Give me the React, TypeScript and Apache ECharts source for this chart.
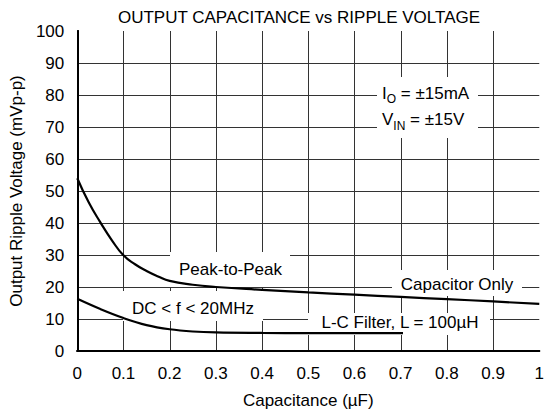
import React, { useEffect, useRef } from "react";
import * as echarts from "echarts";

const xTicks = [0, 0.1, 0.2, 0.3, 0.4, 0.5, 0.6, 0.7, 0.8, 0.9, 1];
const yTicks = [0, 10, 20, 30, 40, 50, 60, 70, 80, 90, 100];

const capX = [0, 0.025, 0.05, 0.075, 0.1, 0.125, 0.15, 0.175, 0.2, 0.25, 0.3, 0.4, 0.5, 0.6, 0.7, 0.8, 0.9, 1.0];
const capY = [54, 46.4, 40.2, 34.6, 29.9, 27.1, 25.0, 23.3, 21.9, 20.7, 20.0, 19.1, 18.3, 17.6, 16.9, 16.2, 15.5, 14.7];

const lcX = [0, 0.05, 0.1, 0.15, 0.2, 0.25, 0.3, 0.4, 0.5, 0.6, 0.705];
const lcY = [16.3, 13.1, 10.3, 8.1, 6.8, 6.1, 5.8, 5.65, 5.6, 5.6, 5.6];

const FONT = "'Liberation Sans', Arial, Helvetica, sans-serif";

export default function App() {
  const ref = useRef<HTMLDivElement>(null);
  useEffect(() => {
    if (!ref.current) return;
    const chart = echarts.init(ref.current, undefined, { renderer: "svg" });
    const fmt = (v: number) => String(Number(v.toFixed(1)));
    const border = { show: true, lineStyle: { color: "#000", width: 2 } };
    chart.setOption({
      animation: false,
      backgroundColor: "#fff",
      textStyle: { fontFamily: FONT, color: "#000" },
      title: {
        text: "OUTPUT CAPACITANCE vs RIPPLE VOLTAGE",
        left: 294,
        top: 4,
        textAlign: "center",
        textStyle: { fontFamily: FONT, fontSize: 17, fontWeight: "normal", color: "#000" },
      },
      grid: { left: 76, right: 2, top: 31, bottom: 67 },
      xAxis: [
        {
          type: "value",
          min: xTicks[0],
          max: xTicks[xTicks.length - 1],
          interval: 0.1,
          name: "Capacitance (µF)",
          nameLocation: "middle",
          nameGap: 41,
          nameTextStyle: { fontFamily: FONT, fontSize: 17, color: "#000" },
          axisLine: border,
          axisTick: { show: false },
          axisLabel: { fontFamily: FONT, fontSize: 17, color: "#000", margin: 14, formatter: fmt },
          splitLine: { show: false },
          z: 6,
        },
        {
          type: "value",
          position: "top",
          min: xTicks[0],
          max: xTicks[xTicks.length - 1],
          interval: 0.1,
          axisLine: border,
          axisTick: { show: false },
          axisLabel: { show: false },
          splitLine: { show: false },
          z: 6,
        },
      ],
      yAxis: [
        {
          type: "value",
          min: yTicks[0],
          max: yTicks[yTicks.length - 1],
          interval: 10,
          name: "Output Ripple Voltage (mVp-p)",
          nameLocation: "middle",
          nameGap: 52,
          nameTextStyle: { fontFamily: FONT, fontSize: 17, color: "#000" },
          axisLine: border,
          axisTick: { show: false },
          axisLabel: { fontFamily: FONT, fontSize: 17, color: "#000", margin: 13 },
          splitLine: { show: false },
          z: 6,
        },
        {
          type: "value",
          position: "right",
          min: yTicks[0],
          max: yTicks[yTicks.length - 1],
          interval: 10,
          axisLine: border,
          axisTick: { show: false },
          axisLabel: { show: false },
          splitLine: { show: false },
          z: 6,
        },
      ],
      series: [
        {
          name: "Capacitor Only",
          type: "line",
          data: capX.map((x, i) => [x, capY[i]]),
          smooth: 0.5,
          showSymbol: false,
          lineStyle: { color: "#000", width: 2.2 },
          z: 5,
        },
        {
          name: "L-C Filter",
          type: "line",
          data: lcX.map((x, i) => [x, lcY[i]]),
          smooth: 0.4,
          showSymbol: false,
          lineStyle: { color: "#000", width: 2.2 },
          z: 5,
        },
      ],
    });

    // grid lines placed through the chart's own axis scales
    const px = (x: number, y: number) =>
      chart.convertToPixel({ xAxisIndex: 0, yAxisIndex: 0 }, [x, y]) as number[];
    const yMin = yTicks[0];
    const yMax = yTicks[yTicks.length - 1];
    const xMin = xTicks[0];
    const xMax = xTicks[xTicks.length - 1];
    const gridEls: any[] = [];
    xTicks.slice(1, -1).forEach((v) => {
      const a = px(v, yMin);
      const b = px(v, yMax);
      const x = Math.round(a[0]) + 0.5;
      gridEls.push({
        type: "line",
        z: 1,
        silent: true,
        shape: { x1: x, y1: a[1], x2: x, y2: b[1] },
        style: { stroke: "#333", lineWidth: 1 },
      });
    });
    yTicks.slice(1, -1).forEach((v) => {
      const a = px(xMin, v);
      const b = px(xMax, v);
      const y = Math.round(a[1]) + 0.5;
      gridEls.push({
        type: "line",
        z: 1,
        silent: true,
        shape: { x1: a[0], y1: y, x2: b[0], y2: y },
        style: { stroke: "#333", lineWidth: 1 },
      });
    });

    const box = (x: number, y: number, w: number, h: number) => ({
      type: "rect",
      z: 3,
      silent: true,
      shape: { x, y, width: w, height: h },
      style: { fill: "#fff" },
    });
    const label = (text: string, x: number, y: number) => ({
      type: "text",
      x,
      y,
      z: 4,
      silent: true,
      style: {
        text,
        font: `17px ${FONT}`,
        fill: "#000",
        align: "center",
        verticalAlign: "middle",
      },
    });
    const rich = {
      n: { fontFamily: FONT, fontSize: 17, lineHeight: 22 },
      s: { fontFamily: FONT, fontSize: 12, lineHeight: 22, padding: [12, 0, 0, 0] },
    };

    chart.setOption({
      graphic: [
        ...gridEls,
        box(170, 252, 120, 35),
        label("Peak-to-Peak", 230.5, 269),
        box(392, 270, 130, 26),
        label("Capacitor Only", 457, 284),
        box(123, 291, 140, 30),
        label("DC < f < 20MHz", 193, 308.5),
        box(308, 313, 182, 22),
        label("L-C Filter, L = 100µH", 400, 322),
        box(377, 77, 101, 61),
        {
          type: "text",
          x: 382,
          y: 93,
          z: 4,
          silent: true,
          style: { text: "{n|I}{s|O}{n| = ±15mA}", fill: "#000", align: "left", verticalAlign: "middle", rich },
        },
        {
          type: "text",
          x: 382,
          y: 119.5,
          z: 4,
          silent: true,
          style: { text: "{n|V}{s|IN}{n| = ±15V}", fill: "#000", align: "left", verticalAlign: "middle", rich },
        },
      ],
    });
    return () => chart.dispose();
  }, []);
  return (
    <div
      ref={ref}
      style={{ position: "fixed", left: 0, top: 0, width: 547, height: 418, background: "#fff" }}
    />
  );
}
